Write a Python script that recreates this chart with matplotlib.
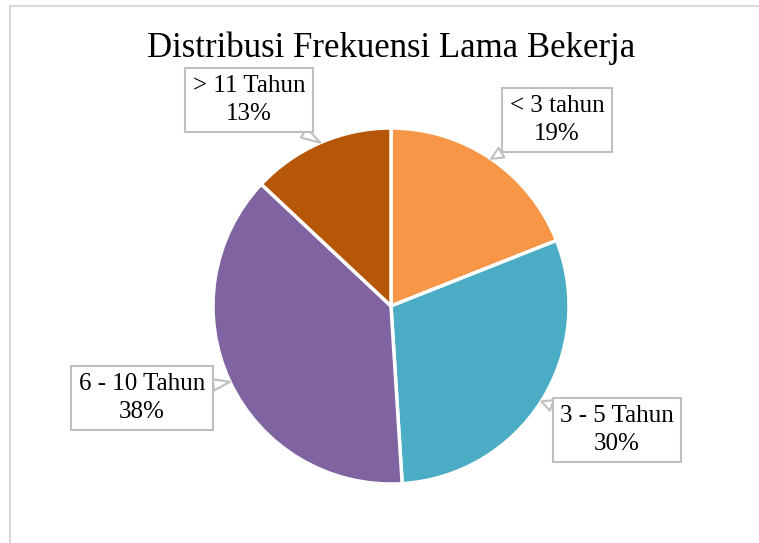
import numpy as np
import matplotlib.pyplot as plt
from matplotlib.patches import Rectangle

# data
labels = ['< 3 tahun', '3 - 5 Tahun', '6 - 10 Tahun', '> 11 Tahun']
values = [19, 30, 38, 13]
colors = ['#F79646', '#4BACC6', '#8064A2', '#B65708']

W, H = 759, 543
plt.rcParams['font.family'] = ['Liberation Serif', 'DejaVu Serif']

fig = plt.figure(figsize=(W / 100, H / 100), dpi=100)

# chart frame (only left/top edge visible)
fig.patches.append(Rectangle((10 / W, -0.1), 1.2, (H - 6) / H + 0.1,
                             transform=fig.transFigure, fill=False,
                             ec='#D9D9D9', lw=1.5))

# pie axes: center (391, 306), radius 178 px
cx, cy, r = 391, 306, 178
ax = fig.add_axes([(cx - r) / W, (H - cy - r) / H, 2 * r / W, 2 * r / H])
wedges, _ = ax.pie(values, colors=colors, startangle=90, counterclock=False,
                   wedgeprops=dict(edgecolor='white', linewidth=2.5))
ax.set_xlim(-1, 1)
ax.set_ylim(-1, 1)
ax.set_aspect('equal')

fig.text(cx / W, 1 - 48 / H, 'Distribusi Frekuensi Lama Bekerja',
         ha='center', va='center', fontsize=25)

# label box centres in pixels
box_pos = [(557, 120), (617, 430), (142, 398), (249, 100)]
for w, lab, v, (bx, by) in zip(wedges, labels, values, box_pos):
    mid = np.deg2rad((w.theta1 + w.theta2) / 2)
    px, py = np.cos(mid), np.sin(mid)
    tx = (bx - cx) / r
    ty = (cy - by) / r
    ax.annotate(f'{lab}\n{v}%', xy=(px, py), xytext=(tx, ty),
                ha='center', va='center', fontsize=18, linespacing=1.3,
                bbox=dict(boxstyle='square,pad=0.3', fc='white',
                          ec='#BFBFBF', lw=1.5),
                arrowprops=dict(arrowstyle='wedge,tail_width=0.45,shrink_factor=0.5',
                                fc='white', ec='#BFBFBF', lw=1.5,
                                shrinkA=0, shrinkB=0),
                annotation_clip=False)

fig.savefig('out.png', dpi=100)
